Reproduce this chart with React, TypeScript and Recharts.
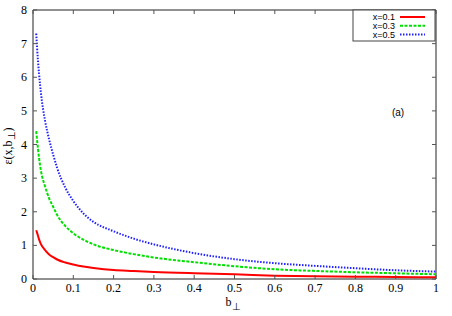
import React from "react";
import { LineChart, Line, XAxis, YAxis, ReferenceArea } from "recharts";

const bValues = [0.008, 0.01, 0.015, 0.02, 0.03, 0.04, 0.05, 0.06, 0.08, 0.1, 0.125, 0.15, 0.2, 0.25, 0.3, 0.4, 0.5, 0.6, 0.7, 0.8, 0.9, 1.0];
const eps01 = [1.45, 1.38, 1.18, 1.03, 0.86, 0.73, 0.65, 0.58, 0.49, 0.43, 0.37, 0.33, 0.27, 0.24, 0.21, 0.17, 0.14, 0.1, 0.08, 0.07, 0.06, 0.05];
const eps03 = [4.4, 4.15, 3.6, 3.2, 2.75, 2.4, 2.15, 1.9, 1.58, 1.36, 1.17, 1.03, 0.86, 0.74, 0.64, 0.5, 0.38, 0.29, 0.24, 0.2, 0.17, 0.14];
const eps05 = [7.3, 6.9, 6.1, 5.5, 4.7, 4.15, 3.7, 3.3, 2.72, 2.32, 1.95, 1.7, 1.42, 1.2, 1.03, 0.77, 0.59, 0.47, 0.39, 0.32, 0.26, 0.22];
const seriesNames = ["x=0.1", "x=0.3", "x=0.5"];
const xTicks = [0, 0.1, 0.2, 0.3, 0.4, 0.5, 0.6, 0.7, 0.8, 0.9, 1];
const yTicks = [0, 1, 2, 3, 4, 5, 6, 7, 8];

const data = bValues.map((b, i) => ({ b, s1: eps01[i], s2: eps03[i], s3: eps05[i] }));

const W = 452;
const H = 316;
const LEFT = 33;
const RIGHT_M = 16;
const TOP = 10;
const BOTTOM_H = 37;
const PLOT_RIGHT = W - RIGHT_M;
const TICK_LEN = 4;
const SERIF = "'Times New Roman', 'Liberation Serif', serif";
const SANS = "'Liberation Sans', Arial, sans-serif";

const colors = ["#ff0000", "#00e000", "#2020ff"];
const dashes = [undefined, "3 1.5", "1.5 1.5"];

const XTick = (props: any) => {
  const { x, y, payload } = props;
  return (
    <g>
      <line x1={x} y1={y} x2={x} y2={y - TICK_LEN} stroke="#555" strokeWidth={1} />
      <line x1={x} y1={TOP} x2={x} y2={TOP + TICK_LEN} stroke="#555" strokeWidth={1} />
      <text x={x} y={y + 13} textAnchor="middle" style={{ fontFamily: SERIF, fontSize: 12 }} fill="#000">
        {String(payload.value)}
      </text>
    </g>
  );
};

const YTick = (props: any) => {
  const { x, y, payload } = props;
  return (
    <g>
      <line x1={x} y1={y} x2={x + TICK_LEN} y2={y} stroke="#555" strokeWidth={1} />
      <line x1={PLOT_RIGHT} y1={y} x2={PLOT_RIGHT - TICK_LEN} y2={y} stroke="#555" strokeWidth={1} />
      <text x={x - 6} y={y + 4} textAnchor="end" style={{ fontFamily: SERIF, fontSize: 12 }} fill="#000">
        {String(payload.value)}
      </text>
    </g>
  );
};

export default function App() {
  const legendLeft = 353;
  const legendTop = TOP;
  const rowGap = 8.8;
  return (
    <div style={{ position: "absolute", left: 0, top: 0, width: W, height: H, background: "#fff" }}>
      <LineChart width={W} height={H} data={data} margin={{ top: TOP, right: RIGHT_M, bottom: 0, left: 0 }}>
        <XAxis
          type="number"
          dataKey="b"
          domain={[0, 1]}
          ticks={xTicks}
          height={BOTTOM_H}
          tickSize={0}
          tickMargin={0}
          tickLine={false}
          axisLine={false}
          tick={<XTick />}
          interval={0}
        />
        <YAxis
          type="number"
          domain={[0, 8]}
          ticks={yTicks}
          width={LEFT}
          tickSize={0}
          tickMargin={0}
          tickLine={false}
          axisLine={false}
          tick={<YTick />}
          interval={0}
        />
        <ReferenceArea x1={0} x2={1} y1={0} y2={8} fill="none" stroke="#222" strokeWidth={1} fillOpacity={0} />
        <Line type="monotone" dataKey="s1" name={seriesNames[0]} stroke={colors[0]} strokeWidth={2} dot={false} isAnimationActive={false} />
        <Line type="monotone" dataKey="s2" name={seriesNames[1]} stroke={colors[1]} strokeWidth={2} strokeDasharray={dashes[1]} dot={false} isAnimationActive={false} />
        <Line type="monotone" dataKey="s3" name={seriesNames[2]} stroke={colors[2]} strokeWidth={2} strokeDasharray={dashes[2]} dot={false} isAnimationActive={false} />
      </LineChart>
      <svg width={W} height={H} style={{ position: "absolute", left: 0, top: 0, pointerEvents: "none" }}>
        <rect x={legendLeft} y={legendTop} width={PLOT_RIGHT - 1 - legendLeft} height={31} fill="#fff" stroke="#444" strokeWidth={1} />
        {seriesNames.map((n, i) => (
          <g key={n}>
            <text x={395} y={legendTop + 10 + i * rowGap} textAnchor="end" style={{ fontFamily: SANS, fontSize: 9 }} fill="#000">
              {n}
            </text>
            <line x1={400} x2={425} y1={legendTop + 7 + i * rowGap} y2={legendTop + 7 + i * rowGap} stroke={colors[i]} strokeWidth={2} strokeDasharray={dashes[i]} />
          </g>
        ))}
        <text x={398} y={116} textAnchor="middle" style={{ fontFamily: SANS, fontSize: 10 }} fill="#000">(a)</text>
        <text x={233} y={306} textAnchor="middle" style={{ fontFamily: SERIF, fontSize: 12 }} fill="#000">
          b<tspan style={{ fontSize: 10 }} dy={4}>⊥</tspan>
        </text>
        <text x={0} y={0} transform="translate(12,146) rotate(-90)" textAnchor="middle" style={{ fontFamily: SERIF, fontSize: 12 }} fill="#000">
          ε(x,b<tspan style={{ fontSize: 10 }} dy={3}>⊥</tspan><tspan dy={-3}>)</tspan>
        </text>
      </svg>
    </div>
  );
}
